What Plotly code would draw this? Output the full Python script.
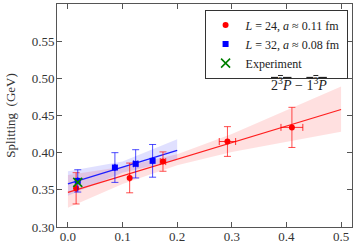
import plotly.graph_objects as go

# ---- data ----
red_x = [0.015, 0.113, 0.174, 0.292, 0.410]
red_y = [0.352, 0.366, 0.388, 0.415, 0.434]
red_yerr = [0.021, 0.020, 0.013, 0.020, 0.027]
red_xerr = [0.0, 0.0, 0.005, 0.015, 0.020]

blue_x = [0.018, 0.086, 0.124, 0.155]
blue_y = [0.362, 0.380, 0.385, 0.389]
blue_yerr = [0.015, 0.020, 0.019, 0.022]
blue_xerr = [0.0, 0.0, 0.004, 0.0]

exp_x = [0.018]
exp_y = [0.360]

red_fit_x = [0.0, 0.5]
red_fit_y = [0.3465, 0.458]
red_band_x = [0.0, 0.1, 0.2, 0.3, 0.4, 0.5]
red_band_lo = [0.326, 0.358, 0.383, 0.401, 0.414, 0.428]
red_band_hi = [0.370, 0.381, 0.398, 0.425, 0.457, 0.489]

blue_fit_x = [0.0, 0.2]
blue_fit_y = [0.358, 0.403]
blue_band_x = [0.0, 0.1, 0.2]
blue_band_lo = [0.342, 0.373, 0.390]
blue_band_hi = [0.375, 0.388, 0.418]

x_ticks = [0.0, 0.1, 0.2, 0.3, 0.4, 0.5]
x_ticklabels = ["0.0", "0.1", "0.2", "0.3", "0.4", "0.5"]
y_ticks = [0.30, 0.35, 0.40, 0.45, 0.50, 0.55]
y_ticklabels = ["0.30", "0.35", "0.40", "0.45", "0.50", "0.55"]

FONT = "Liberation Serif"

fig = go.Figure()

# bands
fig.add_trace(go.Scatter(x=red_band_x + red_band_x[::-1], y=red_band_hi + red_band_lo[::-1],
                         fill="toself", fillcolor="rgba(255,0,0,0.12)", line=dict(width=0),
                         mode="lines", showlegend=False, hoverinfo="skip"))
fig.add_trace(go.Scatter(x=blue_band_x + blue_band_x[::-1], y=blue_band_hi + blue_band_lo[::-1],
                         fill="toself", fillcolor="rgba(0,0,255,0.12)", line=dict(width=0),
                         mode="lines", showlegend=False, hoverinfo="skip"))
# fit lines
fig.add_trace(go.Scatter(x=red_fit_x, y=red_fit_y, mode="lines",
                         line=dict(color="rgb(255,30,30)", width=1.2), showlegend=False))
fig.add_trace(go.Scatter(x=blue_fit_x, y=blue_fit_y, mode="lines",
                         line=dict(color="rgb(30,30,255)", width=1.2), showlegend=False))

# data
fig.add_trace(go.Scatter(x=red_x, y=red_y, mode="markers",
                         name="<i>L</i> = 24, <i>a</i> ≈ 0.11 fm",
                         marker=dict(symbol="circle", size=6, color="red"),
                         error_y=dict(type="data", array=red_yerr, color="rgba(255,0,0,0.7)", thickness=1, width=3.5),
                         error_x=dict(type="data", array=red_xerr, color="rgba(255,0,0,0.8)", thickness=1, width=3.5)))
fig.add_trace(go.Scatter(x=blue_x, y=blue_y, mode="markers",
                         name="<i>L</i> = 32, <i>a</i> ≈ 0.08 fm",
                         marker=dict(symbol="square", size=6, color="blue"),
                         error_y=dict(type="data", array=blue_yerr, color="rgba(0,0,255,0.7)", thickness=1, width=3.5),
                         error_x=dict(type="data", array=blue_xerr, color="rgba(0,0,255,0.7)", thickness=1, width=3.5)))
fig.add_trace(go.Scatter(x=exp_x, y=exp_y, mode="markers", name="Experiment",
                         marker=dict(symbol="x-thin-open", size=9, color="green",
                                     line=dict(color="green", width=1.6))))

axis_common = dict(showline=True, linecolor="#555", linewidth=1, mirror="allticks",
                   ticks="inside", ticklen=5, tickcolor="#555", showgrid=False, zeroline=False,
                   automargin=False,
                   tickfont=dict(family=FONT, size=13, color="#333"))

fig.update_xaxes(range=[-0.02, 0.52], tickvals=x_ticks, ticktext=x_ticklabels,
                 ticklabelstandoff=-3, **axis_common)
fig.update_yaxes(range=[0.30, 0.60], tickvals=y_ticks, ticktext=y_ticklabels,
                 ticklabelstandoff=-1,
                 title=dict(text="Splitting  (GeV)", font=dict(family=FONT, size=13, color="#333"), standoff=13),
                 **axis_common)

fig.add_annotation(x=0.478, y=0.4925, xref="x", yref="y", xanchor="right", yanchor="middle",
                   showarrow=False,
                   text='<span style="text-decoration:overline">2<sup>3</sup><i>P</i></span> − '
                        '<span style="text-decoration:overline">1<sup>3</sup><i>P</i></span>',
                   font=dict(family=FONT, size=14, color="#222"))

fig.update_layout(width=357, height=244, margin=dict(l=57, r=5, t=4, b=17, autoexpand=False),
                  plot_bgcolor="white", paper_bgcolor="white",
                  font=dict(family=FONT, color="#222"),
                  legend=dict(x=0.985, y=0.975, xanchor="right", yanchor="top",
                              bgcolor="white", bordercolor="#333", borderwidth=1,
                              font=dict(family=FONT, size=12, color="#222"),
                              itemwidth=30, tracegroupgap=0))

fig.write_html("out.html", config={"displayModeBar": False},
               post_script="document.body.style.margin='0';document.body.style.overflow='hidden';")
